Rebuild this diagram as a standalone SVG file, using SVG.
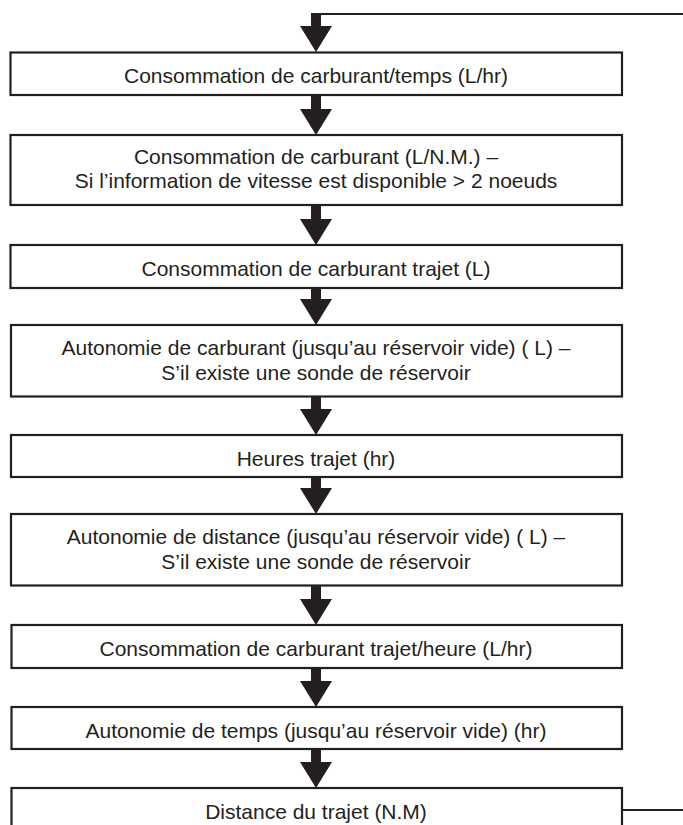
<svg xmlns="http://www.w3.org/2000/svg" width="683" height="825" viewBox="0 0 683 825">
<style>
.box{fill:#fff;stroke:#231f20;stroke-width:2.2}
.t{font-family:"Liberation Sans",Arial,sans-serif;font-size:21px;fill:#231f20;text-anchor:middle}
.shaft{stroke:#231f20;stroke-width:10;fill:none}
.ln{stroke:#231f20;stroke-width:2.2;fill:none}
</style>
<defs>
<marker id="head" markerUnits="userSpaceOnUse" viewBox="0 0 26 32" refX="1" refY="16" markerWidth="26" markerHeight="32" orient="auto">
<path d="M0,0 L26,16 L0,32 z" fill="#231f20"/>
</marker>
</defs>
<rect width="683" height="825" fill="#fff"/>
<g id="connectors">
<path class="ln" d="M683,14 H311"/>
<path class="shaft" d="M316,13 V27" marker-end="url(#head)"/>
<path class="shaft" d="M316,95 V110" marker-end="url(#head)"/>
<path class="shaft" d="M316,205 V220" marker-end="url(#head)"/>
<path class="shaft" d="M316,288 V300" marker-end="url(#head)"/>
<path class="shaft" d="M316,396 V410" marker-end="url(#head)"/>
<path class="shaft" d="M316,477 V489" marker-end="url(#head)"/>
<path class="shaft" d="M316,585 V600" marker-end="url(#head)"/>
<path class="shaft" d="M316,668 V682" marker-end="url(#head)"/>
<path class="shaft" d="M316,749 V763" marker-end="url(#head)"/>
<path class="ln" d="M622,810 H683"/>
</g>
<g id="n1"><rect class="box" x="10.5" y="52.5" width="611.5" height="42.5"/><text class="t" x="316" y="83">Consommation de carburant/temps (L/hr)</text></g>
<g id="n2"><rect class="box" x="10.5" y="135" width="611.5" height="70"/><text class="t" x="316" y="163.5">Consommation de carburant (L/N.M.) –</text><text class="t" x="316" y="187.5">Si l’information de vitesse est disponible &gt; 2 noeuds</text></g>
<g id="n3"><rect class="box" x="10.5" y="245" width="611.5" height="43"/><text class="t" x="316" y="275.5">Consommation de carburant trajet (L)</text></g>
<g id="n4"><rect class="box" x="11" y="325" width="611" height="71.5"/><text class="t" x="316" y="355">Autonomie de carburant (jusqu’au réservoir vide) ( L) –</text><text class="t" x="316" y="379.5">S’il existe une sonde de réservoir</text></g>
<g id="n5"><rect class="box" x="11" y="435" width="611" height="42"/><text class="t" x="316" y="465.5">Heures trajet (hr)</text></g>
<g id="n6"><rect class="box" x="11" y="514" width="611" height="71.5"/><text class="t" x="316" y="544">Autonomie de distance (jusqu’au réservoir vide) ( L) –</text><text class="t" x="316" y="568.5">S’il existe une sonde de réservoir</text></g>
<g id="n7"><rect class="box" x="11.5" y="625" width="610.5" height="43"/><text class="t" x="316" y="655.5">Consommation de carburant trajet/heure (L/hr)</text></g>
<g id="n8"><rect class="box" x="11.5" y="707" width="610.5" height="42"/><text class="t" x="316" y="737.5">Autonomie de temps (jusqu’au réservoir vide) (hr)</text></g>
<g id="n9"><rect class="box" x="11.5" y="788" width="610.5" height="50"/><text class="t" x="316" y="818.5">Distance du trajet (N.M)</text></g>
</svg>
